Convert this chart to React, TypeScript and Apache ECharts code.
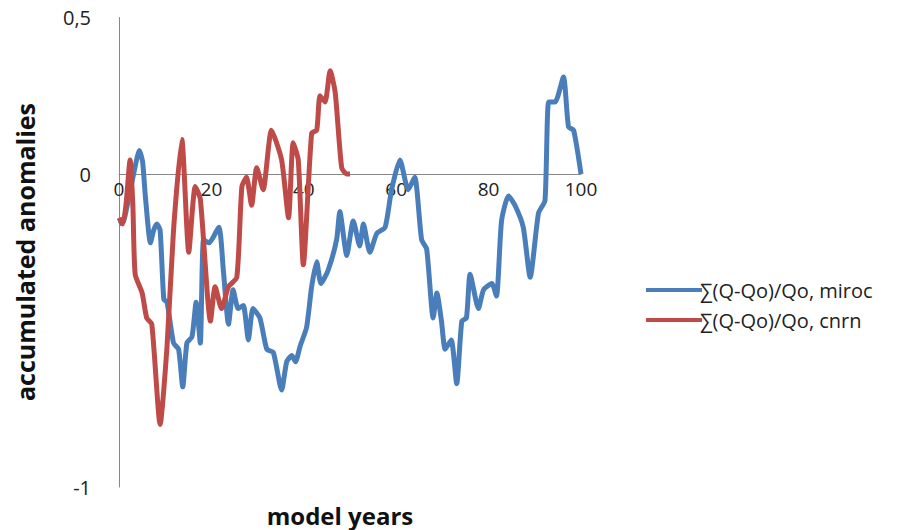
import React, { useEffect, useRef } from "react";
import * as echarts from "echarts";

const mirocYears = [0, 1, 2.2, 3.3, 4.4, 5.1, 5.7, 6.8, 7.5, 8.2, 8.9, 9.7, 10.4, 11.8, 12.9, 13.8, 14.7, 15.8, 16.7, 17.6, 18.3, 19.5, 21.6, 22.6, 23.7, 24.7, 25.8, 26.9, 28, 29, 30.5, 32, 33.4, 35.2, 36.3, 37.4, 38.2, 39.2, 40.6, 41.7, 42.8, 43.7, 45.2, 47.1, 47.8, 49.3, 50.7, 52.1, 52.9, 54.3, 55.8, 57.6, 59, 60.8, 62.6, 64, 65.5, 66.6, 68, 68.8, 69.8, 70.6, 71.9, 73.1, 74.2, 75.2, 76, 77.8, 78.9, 80.7, 81.7, 82.8, 84.3, 85.7, 87.5, 89, 90.8, 92.2, 93, 94.4, 96.2, 97.3, 98.4, 100];
const mirocValues = [-0.16, -0.15, -0.07, 0.01, 0.075, 0.04, -0.07, -0.22, -0.18, -0.16, -0.18, -0.4, -0.41, -0.54, -0.56, -0.68, -0.54, -0.52, -0.41, -0.54, -0.21, -0.22, -0.17, -0.31, -0.48, -0.37, -0.43, -0.42, -0.53, -0.43, -0.46, -0.56, -0.57, -0.69, -0.6, -0.58, -0.6, -0.55, -0.49, -0.36, -0.28, -0.35, -0.31, -0.21, -0.12, -0.26, -0.15, -0.23, -0.16, -0.25, -0.19, -0.17, -0.05, 0.045, -0.05, -0.01, -0.21, -0.24, -0.46, -0.38, -0.47, -0.56, -0.53, -0.67, -0.47, -0.46, -0.32, -0.43, -0.37, -0.35, -0.39, -0.15, -0.07, -0.1, -0.17, -0.33, -0.125, -0.085, 0.23, 0.23, 0.31, 0.15, 0.14, 0.0];

const cnrnYears = [0, 0.8, 1.5, 2.4, 3.0, 3.5, 5, 6, 7.1, 8.9, 10.4, 11.8, 13.6, 15.1, 16.5, 17.6, 19.8, 20.8, 22.2, 23.7, 25.5, 26.6, 27.6, 28.7, 29.8, 31.2, 33, 35.2, 36.7, 37.7, 38.8, 39.9, 41.7, 42.8, 43.5, 44.6, 45.7, 46.8, 48.2, 49.3, 50];
const cnrnValues = [-0.14, -0.16, -0.1, 0.045, -0.1, -0.32, -0.38, -0.46, -0.48, -0.8, -0.55, -0.18, 0.11, -0.25, -0.04, -0.08, -0.47, -0.36, -0.43, -0.36, -0.33, -0.04, -0.01, -0.1, 0.02, -0.05, 0.14, 0.045, -0.14, 0.1, 0.045, -0.29, 0.13, 0.14, 0.25, 0.23, 0.33, 0.26, 0.02, 0.0, 0.0];

const seriesNames = ["\u2211(Q-Qo)/Qo, miroc", "\u2211(Q-Qo)/Qo, cnrn"];
const xTitle = "model years";
const yTitle = "accumulated anomalies";

export default function App() {
  const ref = useRef<HTMLDivElement>(null);
  useEffect(() => {
    if (!ref.current) return;
    const chart = echarts.init(ref.current, null, { renderer: "svg" });
    const font = "'Open Sans', 'Noto Sans', sans-serif";
    const gridTop = 17.5;
    const gridBottom = 43;
    const plotH = 530 - gridTop - gridBottom;
    // distance from the bottom of the plot (y = -1) up to y = 0
    const zeroOffset = plotH * (1 / 1.5);
    chart.setOption({
      animation: false,
      backgroundColor: "#ffffff",
      textStyle: { fontFamily: font },
      grid: { left: 119, right: 325, top: gridTop, bottom: gridBottom, containLabel: false },
      legend: {
        orient: "vertical",
        left: 641,
        top: 275,
        itemGap: 10,
        itemWidth: 56,
        itemHeight: 4,
        icon: "rect",
        textStyle: { fontSize: 20, color: "#222", fontFamily: font, padding: [0, 0, 0, -7] },
        data: seriesNames,
      },
      xAxis: {
        type: "value",
        min: 0,
        max: 100,
        interval: 20,
        position: "bottom",
        offset: -zeroOffset,
        axisLine: { onZero: false, lineStyle: { color: "#868686", width: 1 } },
        axisTick: { show: false },
        splitLine: { show: false },
        axisLabel: { fontSize: 19, color: "#222", margin: 5, fontFamily: font },
      },
      yAxis: {
        type: "value",
        min: -1,
        max: 0.5,
        interval: 0.5,
        axisLine: { show: true, lineStyle: { color: "#868686", width: 1 } },
        axisTick: { show: false },
        splitLine: { show: false },
        axisLabel: {
          fontSize: 20,
          color: "#222",
          margin: 28,
          fontFamily: font,
          formatter: (v: number) => (Math.abs(v + 0.5) < 1e-9 ? "" : String(v).replace(".", ",")),
        },
      },
      graphic: [
        {
          type: "text",
          x: 340,
          y: 515,
          style: {
            text: xTitle,
            fill: "#111",
            font: `bold 24px ${font}`,
            align: "center",
            verticalAlign: "middle",
          },
        },
        {
          type: "text",
          x: 25,
          y: 252,
          rotation: Math.PI / 2,
          style: {
            text: yTitle,
            fill: "#111",
            font: `bold 25px ${font}`,
            align: "center",
            verticalAlign: "middle",
          },
        },
      ],
      series: [
        {
          name: seriesNames[0],
          type: "line",
          data: mirocYears.map((x, i) => [x, mirocValues[i]]),
          showSymbol: false,
          smooth: 0.2,
          lineStyle: { color: "#4A7EBB", width: 5, join: "round" },
          itemStyle: { color: "#4A7EBB" },
        },
        {
          name: seriesNames[1],
          type: "line",
          data: cnrnYears.map((x, i) => [x, cnrnValues[i]]),
          showSymbol: false,
          smooth: 0.2,
          lineStyle: { color: "#BE4B48", width: 5, join: "round" },
          itemStyle: { color: "#BE4B48" },
        },
      ],
    });
    return () => chart.dispose();
  }, []);
  return <div ref={ref} style={{ position: "fixed", left: 0, top: 0, width: 906, height: 530 }} />;
}
